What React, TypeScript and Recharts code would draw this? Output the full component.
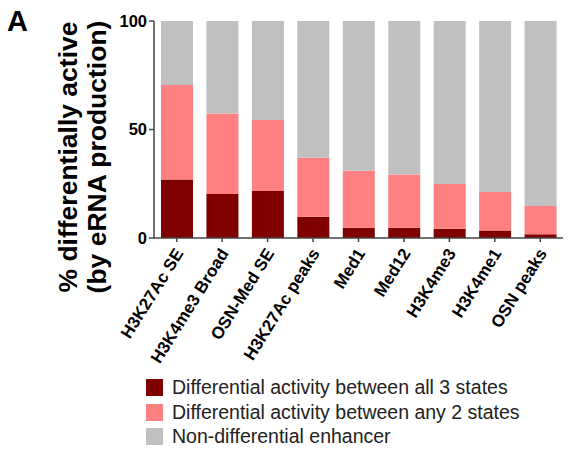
import { BarChart, Bar, XAxis, YAxis } from "recharts";

const categories = [
  "H3K27Ac SE",
  "H3K4me3 Broad",
  "OSN-Med SE",
  "H3K27Ac peaks",
  "Med1",
  "Med12",
  "H3K4me3",
  "H3K4me1",
  "OSN peaks",
];

// percentages
const allThree = [27, 20.3, 21.7, 9.8, 4.7, 4.7, 4.3, 3.4, 1.7];
const anyTwo = [43.5, 37.1, 32.7, 27.2, 26.3, 24.6, 20.6, 17.8, 13.0];
const nonDiff = [29.5, 42.6, 45.6, 63, 69, 70.7, 75.1, 78.8, 85.3];

const yTicks = [0, 50, 100];

const series = [
  { key: "allThree", name: "Differential activity between all 3 states", color: "#800000" },
  { key: "anyTwo", name: "Differential activity between any 2 states", color: "#FF8080" },
  { key: "nonDiff", name: "Non-differential enhancer", color: "#C0C0C0" },
];

const FONT = '"Liberation Sans", Arial, Helvetica, sans-serif';

const chartData = categories.map((name, i) => ({
  name,
  allThree: allThree[i],
  anyTwo: anyTwo[i],
  nonDiff: nonDiff[i],
}));

const XTick = ({ x, y, payload }: any) => (
  <text
    x={x}
    y={y}
    transform={`rotate(-58, ${x}, ${y})`}
    dx={-4}
    dy={11}
    textAnchor="end"
    fontFamily={FONT}
    fontWeight="bold"
    fontSize={17}
    fill="#000"
  >
    {payload.value}
  </text>
);

// two-line rotated axis title
const YTitle = () => {
  const cy = 157;
  return (
    <g fontFamily={FONT} fontWeight="bold" fontSize={26.5} fill="#000">
      <text x={77} y={cy} transform={`rotate(-90, 77, ${cy})`} textAnchor="middle">
        % differentially active
      </text>
      <text x={106} y={cy} transform={`rotate(-90, 106, ${cy})`} textAnchor="middle">
        (by eRNA production)
      </text>
    </g>
  );
};

export default function App() {
  return (
    <div style={{ position: "absolute", left: 0, top: 0, width: 574, height: 449, fontFamily: FONT }}>
      <div style={{ position: "absolute", left: 7, top: 5, fontSize: 29, fontWeight: "bold" }}>A</div>
      <BarChart
        width={574}
        height={449}
        data={chartData}
        margin={{ top: 21, right: 11, left: 114, bottom: 111 }}
        barSize={32}
      >
        <XAxis
          dataKey="name"
          interval={0}
          height={100}
          tick={<XTick />}
          tickSize={4}
          axisLine={{ stroke: "#444", strokeWidth: 1.5 }}
          tickLine={{ stroke: "#444", strokeWidth: 1.5 }}
        />
        <YAxis
          width={40}
          domain={[0, 100]}
          ticks={yTicks}
          tickSize={5}
          axisLine={{ stroke: "#444", strokeWidth: 1.5 }}
          tickLine={{ stroke: "#444", strokeWidth: 1.5 }}
          tick={{ fill: "#000", fontSize: 16.5, fontWeight: "bold", fontFamily: FONT }}
          label={<YTitle />}
        />
        {series.map((s) => (
          <Bar key={s.key} dataKey={s.key} stackId="a" fill={s.color} isAnimationActive={false} />
        ))}
      </BarChart>
      <div style={{ position: "absolute", left: 146, top: 375 }}>
        {series.map((s) => (
          <div key={s.key} style={{ display: "flex", alignItems: "center", height: 24.7 }}>
            <div style={{ width: 17, height: 17, background: s.color, marginRight: 9 }} />
            <span style={{ fontSize: 19.5, color: "#222", whiteSpace: "nowrap" }}>{s.name}</span>
          </div>
        ))}
      </div>
    </div>
  );
}
